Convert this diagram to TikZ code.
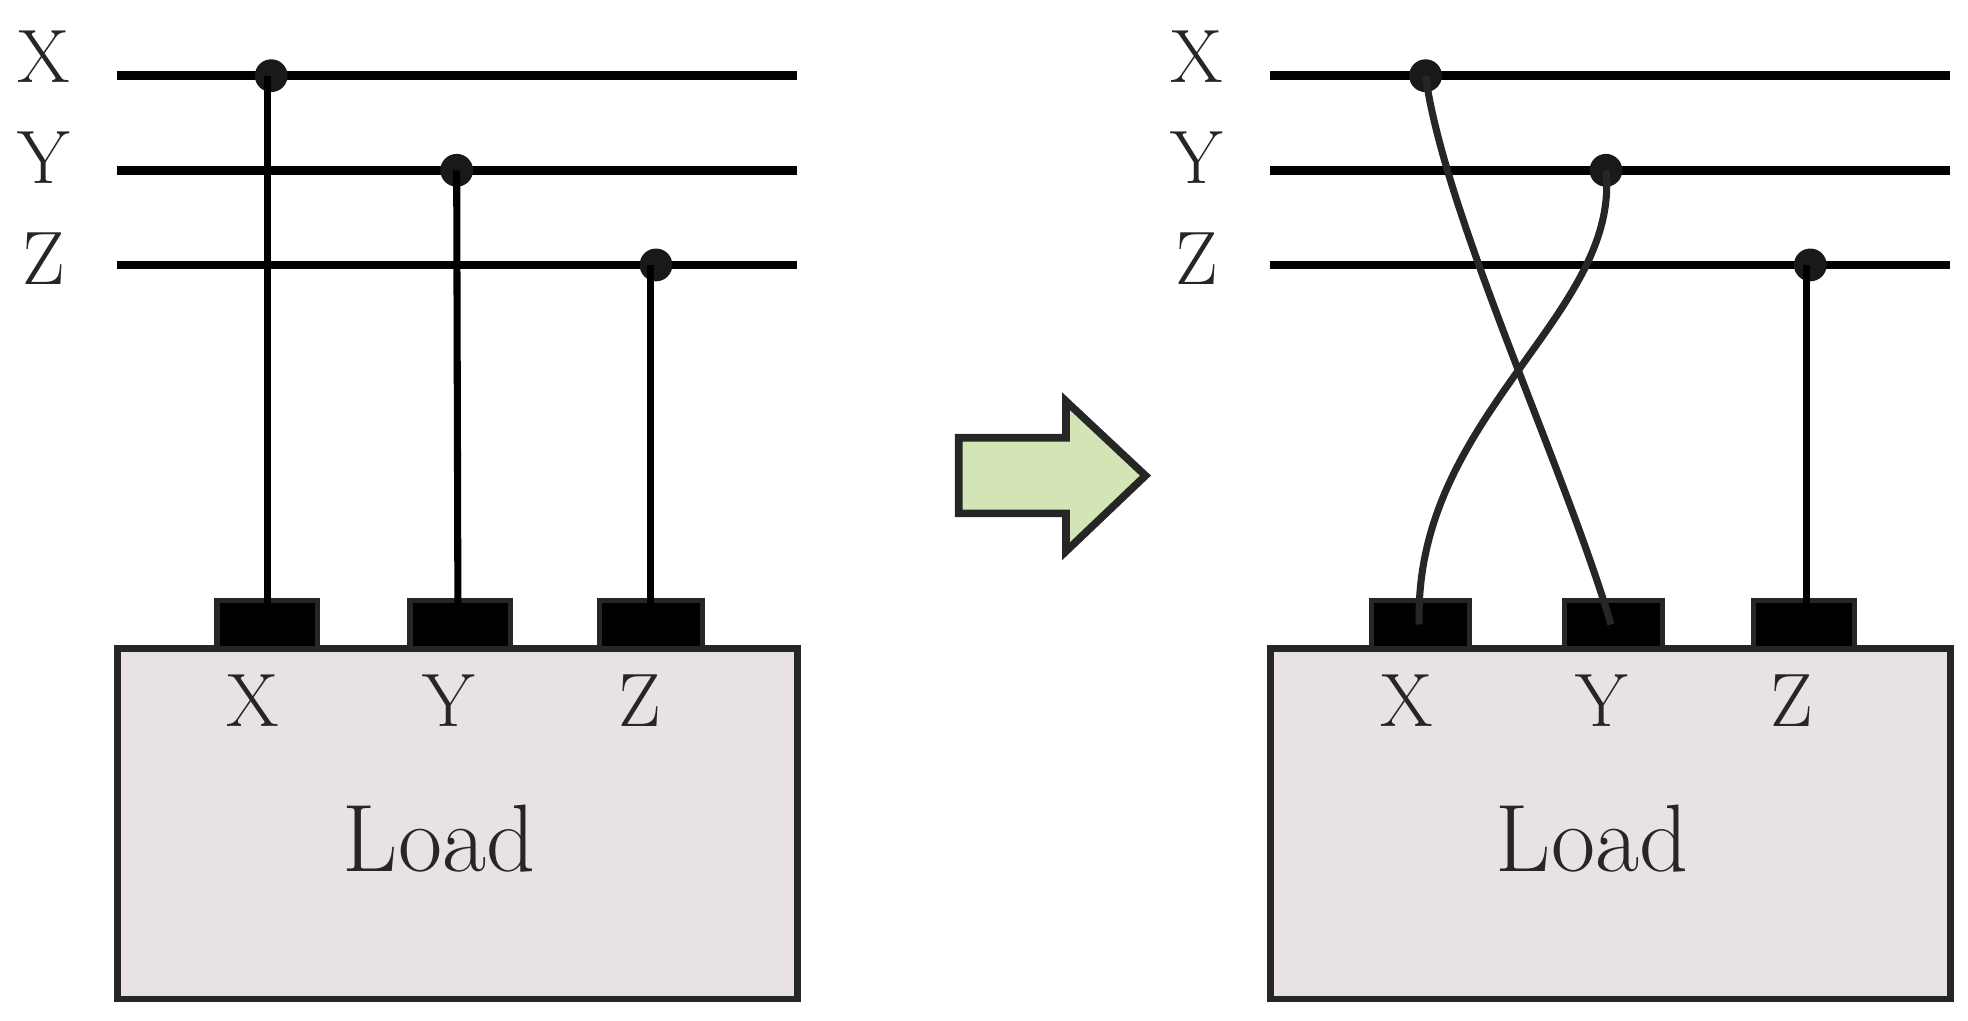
\documentclass[tikz,border=0pt]{standalone}
\begin{document}
\begin{tikzpicture}[x=0.5pt,y=-0.5pt,
  bus/.style={line width=3.5pt},
  wire/.style={line width=2.8pt},
  dot/.style={circle,fill=black!90,inner sep=0pt,minimum size=13pt},
  pad/.style={draw=black!85,line width=2pt,fill=black},
  lbl/.style={font=\fontsize{30}{30}\selectfont,text=black!85},
  loadbox/.style={draw=black!85,line width=2.6pt,fill=boxc}]
\definecolor{boxc}{HTML}{E8E2E7}
\definecolor{arrc}{HTML}{D3E5B4}
\useasboundingbox (0,0) rectangle (1560,809);
\foreach \o in {0,914}{
  \begin{scope}[xshift=\o*0.5pt]
  \draw[loadbox] (93,514) rectangle (632,792);
  \node[lbl] at (348,665) {\fontsize{38}{38}\selectfont Load};
  \node[lbl] at (35,45) {X};
  \node[lbl] at (35,125) {Y};
  \node[lbl] at (35,205) {Z};
  \draw[bus] (93,60) -- (632,60);
  \draw[bus] (93,135) -- (632,135);
  \draw[bus] (93,210) -- (632,210);
  \end{scope}}
% left
\draw[pad] (172,476) rectangle (252,514);
\draw[pad] (325,476) rectangle (405,514);
\draw[pad] (475,476) rectangle (557,514);
\node[lbl] at (200,555) {X};
\node[lbl] at (356,555) {Y};
\node[lbl] at (507,555) {Z};
\node[dot] (dXL) at (215,60) {};
\node[dot] (dYL) at (362,135) {};
\node[dot] (dZL) at (520,210) {};
\coordinate (tXL) at (212,490);
\coordinate (tYL) at (363,490);
\coordinate (tZL) at (516,490);
\draw[wire] (212,60) -- (tXL);
\draw[wire] (362,135) -- (tYL);
\draw[wire] (516,210) -- (tZL);
% arrow
\draw[line width=3pt,draw=black!85,fill=arrc] (760,347) -- (845,347) -- (845,318) -- (908,377) -- (845,437) -- (845,407) -- (760,407) -- cycle;
% right
\draw[pad] (1087,476) rectangle (1165,514);
\draw[pad] (1240,476) rectangle (1318,514);
\draw[pad] (1390,476) rectangle (1470,514);
\node[lbl] at (1115,555) {X};
\node[lbl] at (1270,555) {Y};
\node[lbl] at (1420,555) {Z};
\node[dot] (dXR) at (1130,60) {};
\node[dot] (dYR) at (1273,135) {};
\node[dot] (dZR) at (1435,210) {};
\coordinate (tXR) at (1125,495);
\coordinate (tYR) at (1277,495);
\coordinate (tZR) at (1432,490);
\draw[wire,draw=black!85] (dXR.center) .. controls (1145,170) and (1240,370) .. (tYR);
\draw[wire,draw=black!85] (dYR.center) .. controls (1285,250) and (1120,330) .. (tXR);
\draw[wire] (1432,210) -- (tZR);
\end{tikzpicture}
\end{document}
